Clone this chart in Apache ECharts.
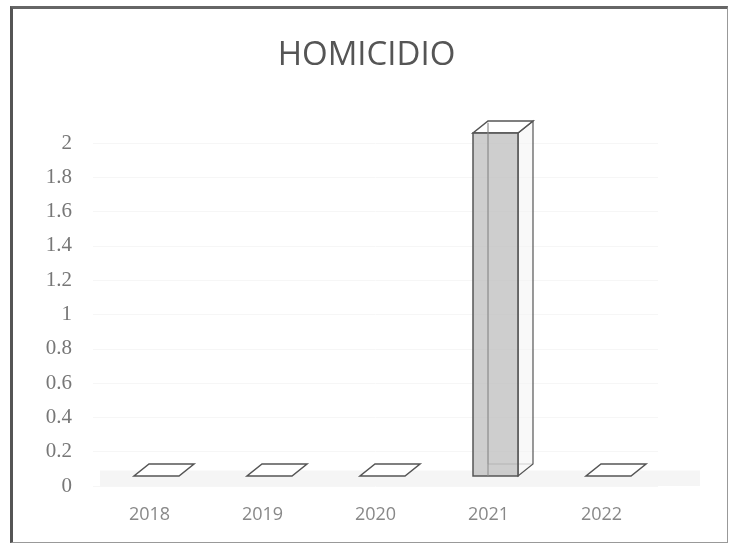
<!DOCTYPE html>
<html>
<head>
<meta charset="utf-8">
<style>
  html, body { margin: 0; padding: 0; background: #fff; }
  #chart { width: 733px; height: 546px; }
  #frame {
    position: absolute; left: 10px; top: 6px; width: 714px; height: 533px;
    border-left: 3px solid #555; border-top: 3px solid #666;
    border-right: 1px solid #999; border-bottom: 1px solid #999;
    pointer-events: none;
  }
</style>
<script src="https://cdn.jsdelivr.net/npm/echarts@6/dist/echarts.min.js"></script>
</head>
<body>
<div id="chart"></div>
<div id="frame"></div>
<script>
const years = ['2018', '2019', '2020', '2021', '2022']
const homicidios = [0, 0, 0, 2, 0]
const yTicks = [0, 0.2, 0.4, 0.6, 0.8, 1, 1.2, 1.4, 1.6, 1.8, 2]

// draws one 3d-looking box (or just its floor outline when value is 0)
function renderBox(params, api) {
    const idx = api.value(0)
    const val = api.value(1)
    const base = api.coord([idx, 0])
    const top = api.coord([idx, val])
    const w = 45, sx = 7, sy = -10, dx = 15, dy = -12

    const l = base[0] + sx - w / 2
    const r = l + w
    const b = base[1] + sy
    const t = top[1] + sy
    const lineColor = '#555'

    if (val === 0) {
        return {
            type: 'polygon',
            shape: { points: [[l, b], [r, b], [r + dx, b + dy], [l + dx, b + dy]] },
            style: { fill: '#fff', stroke: lineColor, lineWidth: 1.5 }
        }
    }
    return {
        type: 'group',
        children: [
            { // back edges seen through
                type: 'polyline',
                shape: { points: [[l + dx, t + dy], [l + dx, b + dy], [r + dx, b + dy]] },
                style: { fill: null, stroke: '#999', lineWidth: 1 }
            },
            { // right side
                type: 'polygon',
                shape: { points: [[r, b], [r + dx, b + dy], [r + dx, t + dy], [r, t]] },
                style: { fill: 'rgba(245,245,245,0.6)', stroke: lineColor, lineWidth: 1.2 }
            },
            { // top
                type: 'polygon',
                shape: { points: [[l, t], [r, t], [r + dx, t + dy], [l + dx, t + dy]] },
                style: { fill: 'rgba(255,255,255,0.6)', stroke: lineColor, lineWidth: 1.5 }
            },
            { // front face
                type: 'rect',
                shape: { x: l, y: t, width: w, height: b - t },
                style: { fill: 'rgba(190,190,190,0.75)', stroke: lineColor, lineWidth: 1.5 }
            },
            { // inner back edge visible through front face
                type: 'line',
                shape: { x1: l + dx, y1: t + dy + 2, x2: l + dx, y2: b },
                style: { stroke: '#8a8a8a', lineWidth: 1 }
            }
        ]
    }
}

const myChart = echarts.init(document.getElementById('chart'))
const option = {
    animation: false,
    backgroundColor: '#fff',
    title: {
        text: 'HOMICIDIO',
        left: 'center',
        top: 34,
        textStyle: { fontFamily: 'Open Sans', fontSize: 33, fontWeight: 'normal', color: '#555' }
    },
    grid: { left: 93, right: 75, top: 143, bottom: 60 },
    xAxis: {
        type: 'category',
        data: years,
        axisLine: { show: false },
        axisTick: { show: false },
        axisLabel: { margin: 20, fontFamily: 'Open Sans', fontSize: 18, color: '#888' }
    },
    yAxis: {
        type: 'value',
        min: yTicks[0],
        max: yTicks[yTicks.length - 1],
        interval: 0.2,
        axisLine: { show: false },
        axisTick: { show: false },
        splitLine: { lineStyle: { color: '#f6f6f6' } },
        axisLabel: { margin: 21, fontFamily: 'Liberation Serif', fontSize: 21, color: '#777' }
    },
    series: [{
        type: 'custom',
        renderItem: renderBox,
        encode: { x: 0, y: 1 },
        data: homicidios.map((v, i) => [i, v]),
        markArea: {
            silent: true,
            itemStyle: { color: '#f5f5f5' },
            data: [[{ yAxis: 0, x: 100 }, { yAxis: 0.09, x: 700 }]]
        }
    }]
}
myChart.setOption(option)
</script>
</body>
</html>
